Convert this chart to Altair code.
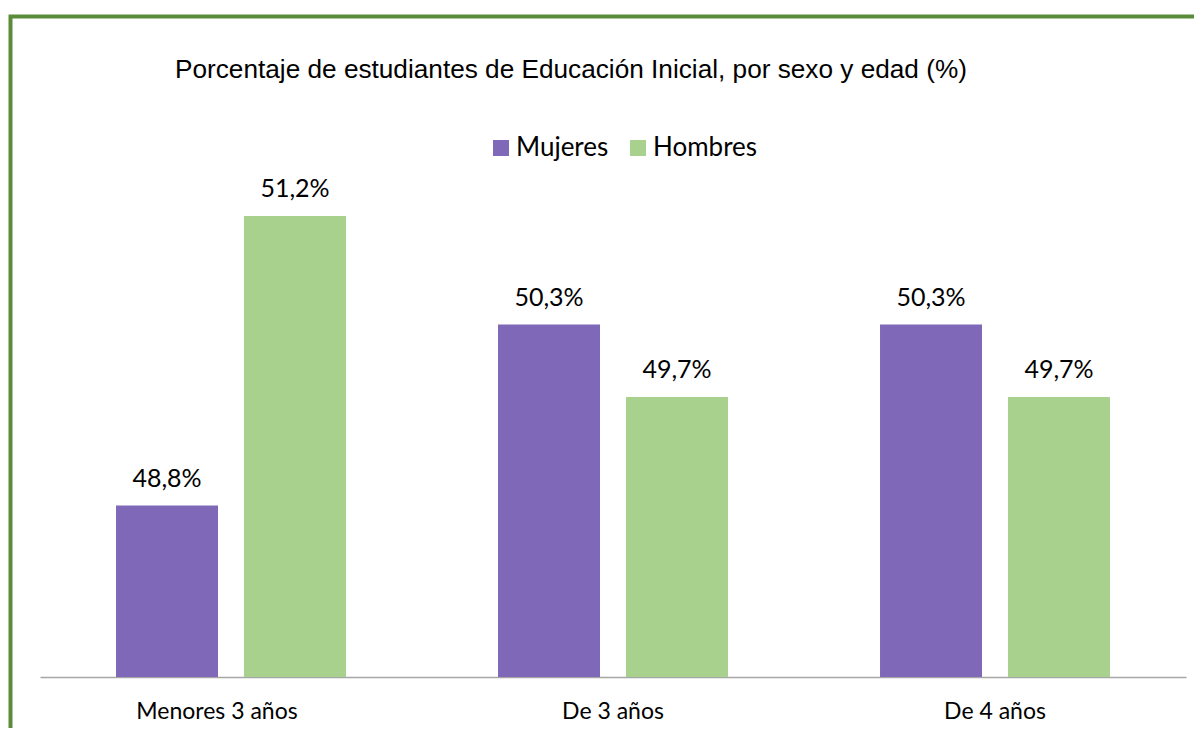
import altair as alt
import pandas as pd

categories = ["Menores 3 años", "De 3 años", "De 4 años"]
series = ["Mujeres", "Hombres"]
mujeres = [48.8, 50.3, 50.3]
hombres = [51.2, 49.7, 49.7]
colors = ["#7F68B8", "#A9D18E"]
title_text = "Porcentaje de estudiantes de Educación Inicial, por sexo y edad (%)"

rows = []
for i, c in enumerate(categories):
    rows.append({"cat": c, "sexo": "Mujeres", "val": mujeres[i], "label": f"{mujeres[i]:.1f}%".replace(".", ",")})
    rows.append({"cat": c, "sexo": "Hombres", "val": hombres[i], "label": f"{hombres[i]:.1f}%".replace(".", ",")})
df = pd.DataFrame(rows)

ymin, ymax = 47.38, 52.16
H = 577
W = 1146

x_enc = alt.X("cat:N", sort=categories, title=None,
              scale=alt.Scale(paddingInner=0.398, paddingOuter=0.199),
              axis=alt.Axis(labelAngle=0, ticks=False, domainColor="#A6A6A6", domainWidth=1.5,
                            labelFont="Lato", labelFontSize=23, labelColor="#000000",
                            labelPadding=23, grid=False,
                            labelOffset=alt.ExprRef("datum.value == 'Menores 3 años' ? -14 : 0")))
xo = alt.XOffset("sexo:N", sort=series, scale=alt.Scale(paddingInner=0.203, paddingOuter=0))
y_enc = alt.Y("val:Q", scale=alt.Scale(domain=[ymin, ymax], nice=False, zero=False), axis=None)

bars = alt.Chart(df).mark_bar(clip=True).encode(
    x=x_enc, xOffset=xo, y=y_enc, y2=alt.datum(ymin),
    color=alt.Color("sexo:N", sort=series, scale=alt.Scale(domain=series, range=colors),
                    legend=alt.Legend(title=None, orient="none", direction="horizontal",
                                      legendX=448, legendY=35, symbolType="square", symbolSize=256,
                                      symbolStrokeWidth=0, labelFont="Lato", labelFontSize=26,
                                      labelColor="#000000", columnPadding=16, labelOffset=2)),
)

labels = alt.Chart(df).mark_text(font="Lato", fontSize=25, baseline="bottom", dy=-14, color="#000000").encode(
    x=x_enc, xOffset=xo, y=y_enc, text="label:N"
)

border = alt.Chart(pd.DataFrame({"a": [0]})).mark_rect(
    fill=None, stroke="#5B8C3A", strokeWidth=4, clip=False
).encode(x=alt.value(-29.5), x2=alt.value(1250), y=alt.value(-83.5), y2=alt.value(800))

title = alt.Chart(pd.DataFrame({"t": [title_text]})).mark_text(
    font="Liberation Sans", fontSize=26.2, align="left", baseline="alphabetic", color="#000000", clip=False
).encode(x=alt.value(135), y=alt.value(-22), text="t:N")

chart = alt.layer(border, bars, labels, title).properties(
    width=W, height=H,
    background="white",
    autosize=alt.AutoSizeParams(type="none"),
    padding={"left": 32, "top": 92, "right": 8, "bottom": 51},
).configure_view(strokeWidth=0, stroke="transparent")

chart.save("out.html", embed_options={"renderer": "svg", "actions": False})
